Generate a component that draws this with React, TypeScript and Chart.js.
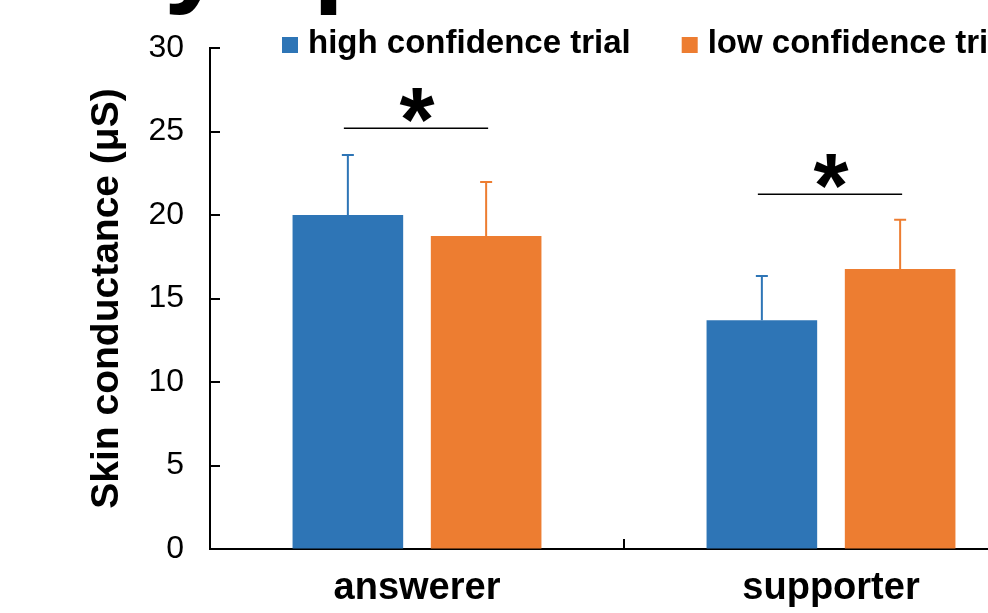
import React, { useEffect, useRef } from "react";
import { Chart, registerables } from "chart.js";

Chart.register(...registerables);

// ---- data ----
const categories = ["answerer", "supporter"];
const seriesLabels = ["high confidence trial", "low confidence trial"];
const highConfidence = [20.0, 13.7];
const lowConfidence = [18.75, 16.77];
const highConfidenceError = [3.6, 2.65];
const lowConfidenceError = [3.23, 2.95];
const significanceLevels = [25.2, 21.25];
const significanceMarks = ["*", "*"];
const yTicks = [0, 5, 10, 15, 20, 25, 30];
const yTitle = "Skin conductance (μS)";
const headingFragments = ["y", "p"];

const FONT = "'Liberation Sans', Arial, sans-serif";
const BLUE = "#2E75B6";
const ORANGE = "#ED7D31";
const errors = [highConfidenceError, lowConfidenceError];

// Ticks drawn inside the plot, Excel style, plus category separators on x
const insideTicks = {
  id: "insideTicks",
  afterDatasetsDraw(chart: any) {
    const { ctx, chartArea, scales } = chart;
    const y = scales.y;
    const x = scales.x;
    ctx.save();
    ctx.strokeStyle = "#000";
    ctx.lineWidth = 2;
    ctx.beginPath();
    y.ticks.forEach((t: any) => {
      if (t.value === 0) return;
      const py = Math.round(y.getPixelForValue(t.value));
      ctx.moveTo(chartArea.left, py);
      ctx.lineTo(chartArea.left + 10, py);
    });
    for (let i = 0; i < categories.length - 1; i++) {
      const px = Math.round((x.getPixelForValue(i) + x.getPixelForValue(i + 1)) / 2);
      ctx.moveTo(px, chartArea.bottom);
      ctx.lineTo(px, chartArea.bottom - 10);
    }
    ctx.stroke();
    ctx.restore();
  },
};

// Upper whiskers of the standard error
const errorBars = {
  id: "errorBars",
  afterDatasetsDraw(chart: any) {
    const { ctx, scales } = chart;
    chart.data.datasets.forEach((ds: any, di: number) => {
      const meta = chart.getDatasetMeta(di);
      meta.data.forEach((bar: any, i: number) => {
        const top = scales.y.getPixelForValue(ds.data[i] + errors[di][i]);
        ctx.save();
        ctx.strokeStyle = ds.backgroundColor;
        ctx.lineWidth = 2;
        ctx.beginPath();
        ctx.moveTo(bar.x, bar.y);
        ctx.lineTo(bar.x, top);
        ctx.moveTo(bar.x - 6, top);
        ctx.lineTo(bar.x + 6, top);
        ctx.stroke();
        ctx.restore();
      });
    });
  },
};

// Significance brackets with asterisks
const significance = {
  id: "significance",
  afterDatasetsDraw(chart: any) {
    const { ctx, scales } = chart;
    const m0 = chart.getDatasetMeta(0);
    const m1 = chart.getDatasetMeta(1);
    significanceLevels.forEach((level, i) => {
      const x0 = m0.data[i].x - 4;
      const x1 = m1.data[i].x + 2;
      const py = scales.y.getPixelForValue(level);
      ctx.save();
      ctx.strokeStyle = "#000";
      ctx.lineWidth = 1.5;
      ctx.beginPath();
      ctx.moveTo(x0, py);
      ctx.lineTo(x1, py);
      ctx.stroke();
      ctx.font = `bold 90px ${FONT}`;
      ctx.fillStyle = "#000";
      ctx.textAlign = "center";
      ctx.textBaseline = "alphabetic";
      const m = ctx.measureText(significanceMarks[i]);
      const mid = (m.actualBoundingBoxAscent - m.actualBoundingBoxDescent) / 2;
      ctx.fillText(significanceMarks[i], (x0 + x1) / 2 + 1, py - 23 + mid);
      ctx.restore();
    });
  },
};

// Legend row across the top of the plot
const topLegend = {
  id: "topLegend",
  afterDraw(chart: any) {
    const { ctx, chartArea } = chart;
    let x = chartArea.left + 72;
    ctx.save();
    ctx.font = `bold 33px ${FONT}`;
    ctx.textBaseline = "alphabetic";
    ctx.textAlign = "left";
    chart.data.datasets.forEach((ds: any) => {
      ctx.fillStyle = ds.backgroundColor;
      ctx.fillRect(x, 37, 16, 16);
      ctx.fillStyle = "#000";
      ctx.fillText(ds.label, x + 26, 53);
      x += 26 + ctx.measureText(ds.label).width + 51;
    });
    ctx.restore();
  },
};

// Large heading above the plot (only its descenders fall inside the canvas)
const heading = {
  id: "heading",
  afterDraw(chart: any) {
    const { ctx } = chart;
    ctx.save();
    ctx.font = `bold 112px ${FONT}`;
    ctx.fillStyle = "#000";
    ctx.textBaseline = "alphabetic";
    ctx.textAlign = "left";
    ctx.fillText(headingFragments[0], 164, -8);
    ctx.fillText(headingFragments[1], 313, -8);
    ctx.restore();
  },
};

export default function App() {
  const ref = useRef<HTMLCanvasElement | null>(null);

  useEffect(() => {
    if (!ref.current) return;
    const chart = new Chart(ref.current, {
      type: "bar",
      data: {
        labels: categories,
        datasets: [
          { label: seriesLabels[0], data: highConfidence, backgroundColor: BLUE },
          { label: seriesLabels[1], data: lowConfidence, backgroundColor: ORANGE },
        ],
      },
      options: {
        animation: false,
        responsive: false,
        devicePixelRatio: 1,
        layout: { padding: { top: 48, right: 22, bottom: 0, left: 0 } },
        datasets: { bar: { categoryPercentage: 0.668, barPercentage: 0.8 } },
        plugins: { legend: { display: false }, tooltip: { enabled: false }, title: { display: false } },
        scales: {
          x: {
            grid: { display: true, drawOnChartArea: false, drawTicks: false },
            border: { color: "#000", width: 2 },
            ticks: { color: "#000", padding: 17, font: { family: FONT, size: 38, weight: "bold" } },
            afterFit: (s: any) => { s.height = 64; },
          },
          y: {
            min: 0,
            max: 30,
            afterBuildTicks: (s: any) => { s.ticks = yTicks.map((v) => ({ value: v })); },
            grid: { display: true, drawOnChartArea: false, drawTicks: false },
            border: { color: "#000", width: 2 },
            ticks: { color: "#000", padding: 26, font: { family: FONT, size: 32 } },
            title: {
              display: true,
              text: yTitle,
              color: "#000",
              font: { family: FONT, size: 39, weight: "bold" },
              padding: { top: 84, bottom: 0 },
            },
            afterFit: (s: any) => { s.width = 210; },
          },
        },
      } as any,
      plugins: [insideTicks, errorBars, significance, topLegend, heading],
    });
    return () => chart.destroy();
  }, []);

  return (
    <div
      style={{
        position: "absolute",
        left: 0,
        top: 0,
        width: 988,
        height: 613,
        overflow: "hidden",
        background: "#fff",
      }}
    >
      <canvas ref={ref} width={1060} height={613} style={{ display: "block" }} />
    </div>
  );
}
